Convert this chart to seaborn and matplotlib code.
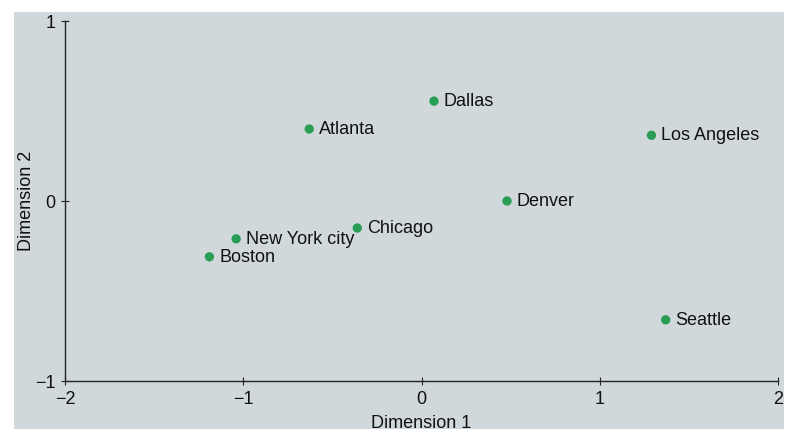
import matplotlib
matplotlib.use("Agg")
import matplotlib.pyplot as plt
import seaborn as sns
import pandas as pd
from matplotlib.patches import Rectangle

cities = ["Atlanta", "Dallas", "Los Angeles", "Denver", "Chicago",
          "New York city", "Boston", "Seattle"]
dim1 = [-0.63, 0.07, 1.29, 0.48, -0.36, -1.04, -1.19, 1.37]
dim2 = [0.40, 0.555, 0.365, 0.0, -0.15, -0.21, -0.31, -0.66]

df = pd.DataFrame({"city": cities, "Dimension 1": dim1, "Dimension 2": dim2})

sns.set_style("white")
plt.rcParams["font.family"] = ["Liberation Sans", "DejaVu Sans"]

bg = "#d0d8db"
fig = plt.figure(figsize=(8.01, 4.42), dpi=100, facecolor="white")
fig.patches.append(Rectangle((14 / 801, 13 / 442), 770 / 801, 417 / 442,
                             transform=fig.transFigure, facecolor=bg,
                             edgecolor="none", zorder=-10))
ax = fig.add_axes([65 / 801, 61 / 442, 713 / 801, 360 / 442])
ax.set_zorder(5)
ax.set_facecolor("none")

sns.scatterplot(data=df, x="Dimension 1", y="Dimension 2", ax=ax,
                color="#2a9d55", s=45, edgecolor="none", zorder=3)

for c, x, y in zip(cities, dim1, dim2):
    ax.annotate(c, (x, y), xytext=(7, -0.5), textcoords="offset points",
                ha="left", va="center", fontsize=13, color="#111111")

ax.set_xlim(-2, 2)
ax.set_ylim(-1, 1)
ax.set_xticks([-2, -1, 0, 1, 2])
ax.set_yticks([-1, 0, 1])
ax.set_xticklabels(["\u22122", "\u22121", "0", "1", "2"])
ax.set_yticklabels(["\u22121", "0", "1"])
ax.tick_params(bottom=True, left=True, direction="inout", length=6,
               width=0.8, colors="#222222", labelsize=13,
               labelcolor="#111111")
ax.tick_params(axis="x", pad=4)
ax.tick_params(axis="y", pad=4)
for s in ["top", "right"]:
    ax.spines[s].set_visible(False)
for s in ["left", "bottom"]:
    ax.spines[s].set_color("#222222")
    ax.spines[s].set_linewidth(1.0)
ax.set_xlabel("Dimension 1", fontsize=13, color="#111111", labelpad=5)
ax.set_ylabel("Dimension 2", fontsize=13, color="#111111", labelpad=0)

fig.savefig("out.png", dpi=100, facecolor="white")
